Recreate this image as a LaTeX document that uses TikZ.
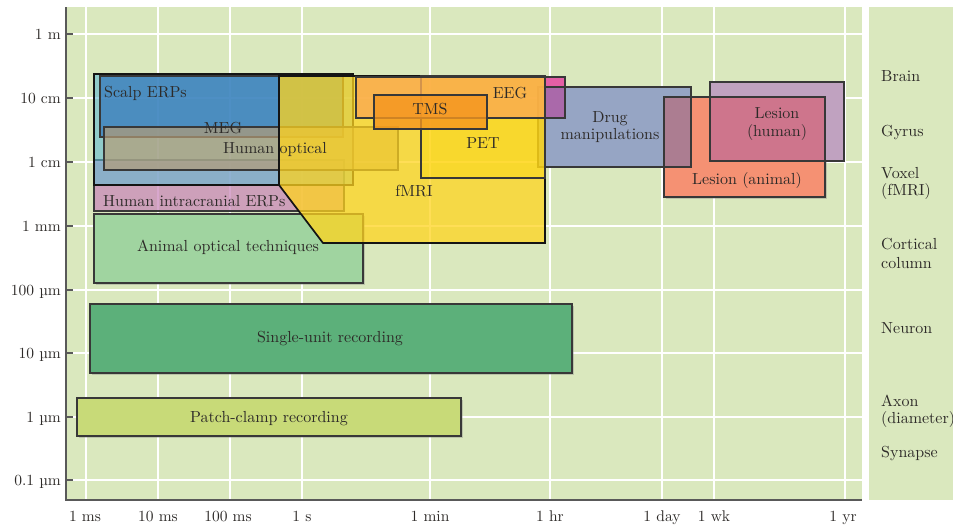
\documentclass[tikz,border=0pt]{standalone}
\usepackage{fontspec}
\setmainfont{lmroman10-regular}[Extension=.otf]
\usetikzlibrary{shadows}
\definecolor{bg}{RGB}{218,232,190}
\definecolor{txt}{RGB}{45,42,40}
\definecolor{patch}{RGB}{200,218,120}
\definecolor{single}{RGB}{92,176,122}
\definecolor{animal}{RGB}{160,212,160}
\definecolor{intra}{RGB}{200,130,185}
\definecolor{meg}{RGB}{95,185,210}
\definecolor{scalp}{RGB}{58,126,189}
\definecolor{hopt}{RGB}{180,156,118}
\definecolor{drug}{RGB}{150,165,196}
\definecolor{mag}{RGB}{228,95,165}
\definecolor{magdrug}{RGB}{170,105,170}
\definecolor{lesa}{RGB}{245,145,115}
\definecolor{lesh}{RGB}{192,162,192}
\definecolor{drugles}{RGB}{172,125,145}
\definecolor{lesboth}{RGB}{206,117,140}
\definecolor{fmri}{RGB}{255,212,30}
\definecolor{pet}{RGB}{255,215,0}
\definecolor{eeg}{RGB}{250,170,80}
\definecolor{tms}{RGB}{245,150,30}
\begin{document}
\begin{tikzpicture}[x=1pt,y=-1pt]
\tikzset{
 box/.style={draw=black!78, line width=1.1pt},
 outl/.style={draw=black!78, line width=1.1pt},
 mainbox/.style={draw=black!92, line width=1.7pt},
 shad/.style={drop shadow={opacity=0.35, shadow xshift=1.5pt, shadow yshift=-1.5pt}},
 lab/.style={font=\fontsize{16}{17.5}\selectfont, text=txt, inner sep=0pt, anchor=base},
 labw/.style={lab, anchor=base west},
 axlab/.style={font=\fontsize{15.5}{17}\selectfont, text=txt, inner sep=0pt},
 gridl/.style={white, line width=1.8pt},
 axisl/.style={black!65, line width=1.2pt},
}
\useasboundingbox (0,0) rectangle (953,525);
% backgrounds
\fill[bg] (66,7) rectangle (862,500);
\fill[bg] (869,7) rectangle (953,500);
% grid
\foreach \y in {34,98,162,226,290,353,417,480} \draw[gridl] (66,\y) -- (862,\y);
\foreach \x in {86,158,230,302,430,550,662,714,845} \draw[gridl] (\x,7) -- (\x,500);
% axes
\draw[axisl] (66,7) -- (66,500) -- (862,500);
\foreach \y in {34,98,162,226,290,353,417,480} \draw[axisl] (66,\y) -- (73,\y);
% y labels
\node[axlab, anchor=base east] (ym) at (61,39) {1 m};
\node[axlab, anchor=base east] (ycm10) at (61,103) {10 cm};
\node[axlab, anchor=base east] (ycm) at (61,167) {1 cm};
\node[axlab, anchor=base east] (ymm) at (61,231) {1 mm};
\node[axlab, anchor=base east] (yum100) at (61,295) {100 µm};
\node[axlab, anchor=base east] (yum10) at (61,358) {10 µm};
\node[axlab, anchor=base east] (yum) at (61,422) {1 µm};
\node[axlab, anchor=base east] (yum01) at (61,485) {0.1 µm};
% x labels
\node[axlab, anchor=base] (xms) at (85,521) {1 ms};
\node[axlab, anchor=base] (xms10) at (158,521) {10 ms};
\node[axlab, anchor=base] (xms100) at (228,521) {100 ms};
\node[axlab, anchor=base] (xs) at (302,521) {1 s};
\node[axlab, anchor=base] (xmin) at (430,521) {1 min};
\node[axlab, anchor=base] (xhr) at (550,521) {1 hr};
\node[axlab, anchor=base] (xday) at (662,521) {1 day};
\node[axlab, anchor=base] (xwk) at (714,521) {1 wk};
\node[axlab, anchor=base] (xyr) at (843,521) {1 yr};
% right panel labels
\node[labw] (rbrain) at (881,81) {Brain};
\node[labw] (rgyrus) at (881,136) {Gyrus};
\node[labw] (rvox) at (881,178) {Voxel};
\node[labw] (rvox2) at (881,195) {(fMRI)};
\node[labw] (rcol) at (881,249) {Cortical};
\node[labw] (rcol2) at (881,268) {column};
\node[labw] (rneu) at (881,333) {Neuron};
\node[labw] (rax) at (881,406) {Axon};
\node[labw] (rax2) at (881,423) {(diameter)};
\node[labw] (rsyn) at (881,457) {Synapse};
% left and bottom boxes
\filldraw[box, fill=patch, shad] (77,398) rectangle (461,436);
\filldraw[box, fill=single, shad] (90,304) rectangle (572,373);
\filldraw[box, fill=animal, shad] (94,214) rectangle (363,283);
\filldraw[box, fill=intra, fill opacity=0.7] (94,160) rectangle (344,211);
\filldraw[mainbox, fill=meg, fill opacity=0.6] (94,74) rectangle (353,185);
\filldraw[box, fill=scalp, fill opacity=0.8] (100,76) rectangle (343,137);
\filldraw[box, fill=hopt, fill opacity=0.7] (104,127) rectangle (398,170);
% right cluster: fills, overlaps, then outlines
\fill[lesa, drop shadow={opacity=0.35, shadow xshift=1.5pt, shadow yshift=-1.5pt}] (664,97) rectangle (825,197);
\fill[drug] (538,87) rectangle (691,167);
\fill[mag] (545,77) rectangle (565,118);
\fill[lesh] (710,82) rectangle (844,161);
\fill[drugles] (664,97) rectangle (691,167);
\fill[magdrug] (545,87) rectangle (565,118);
\fill[lesboth] (710,97) rectangle (825,161);
\draw[outl] (538,87) rectangle (691,167);
\draw[outl] (545,77) rectangle (565,118);
\draw[outl] (664,97) rectangle (825,197);
\draw[outl] (710,82) rectangle (844,161);
% fMRI group
\filldraw[mainbox, fill=fmri, fill opacity=0.75] (279,76) -- (545,76) -- (545,243) -- (323,243) -- (279,185) -- cycle;
\filldraw[box, fill=pet, fill opacity=0.35] (421,76) rectangle (545,178);
\filldraw[box, fill=eeg, fill opacity=0.8] (356,77) rectangle (545,118);
\filldraw[box, fill=tms, fill opacity=0.8] (374,95) rectangle (487,129);
% box labels
\node[labw] (lscalp) at (104,97) {Scalp ERPs};
\node[lab] (lmeg) at (223,133) {MEG};
\node[lab] (lhopt) at (275,153) {Human optical};
\node[labw] (lintra) at (103,206) {Human intracranial ERPs};
\node[lab] (lanimal) at (228,251) {Animal optical techniques};
\node[lab] (lfmri) at (414,196) {fMRI};
\node[lab] (lpet) at (483,148) {PET};
\node[lab] (ltms) at (430,114) {TMS};
\node[lab] (leeg) at (510,98) {EEG};
\node[lab] (ldrug) at (610,122) {Drug};
\node[lab] (ldrug2) at (610,139) {manipulations};
\node[lab] (llesh) at (777,118) {Lesion};
\node[lab] (llesh2) at (777,136) {(human)};
\node[lab] (llesa) at (747,184) {Lesion (animal)};
\node[lab] (lsingle) at (330,342) {Single-unit recording};
\node[lab] (lpatch) at (269,422) {Patch-clamp recording};
\end{tikzpicture}
\end{document}
